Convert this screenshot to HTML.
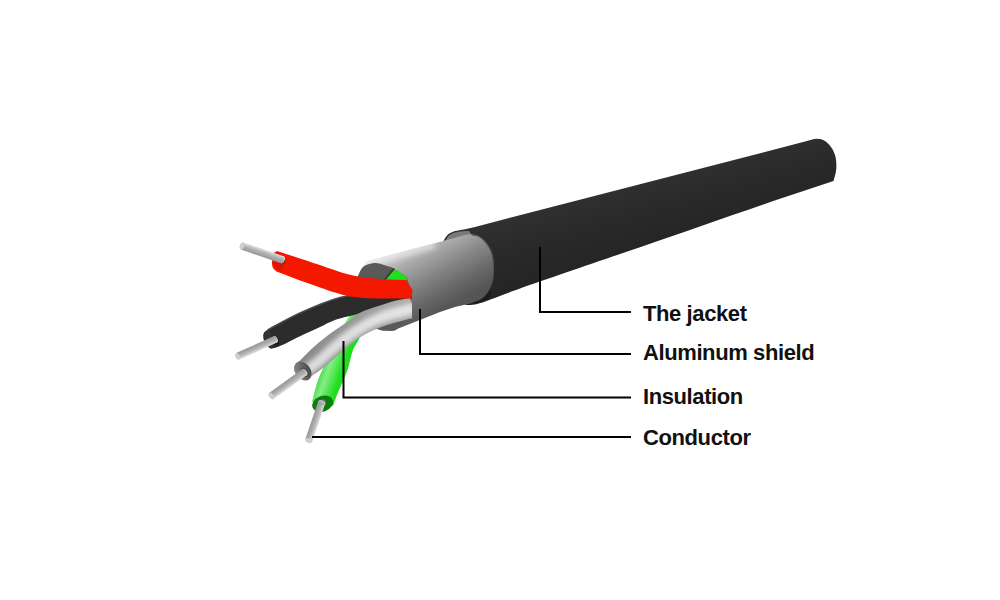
<!DOCTYPE html>
<html><head><meta charset="utf-8">
<style>
html,body{margin:0;padding:0;background:#fff;}
body{width:1000px;height:600px;overflow:hidden;position:relative;}
svg{position:absolute;left:0;top:0;}
.lbl{position:absolute;left:643px;font-family:"Liberation Sans",sans-serif;font-weight:bold;font-size:22px;letter-spacing:-0.4px;color:#111;white-space:nowrap;line-height:1;}
</style></head>
<body>
<svg width="1000" height="600" viewBox="0 0 1000 600">
<defs>
<linearGradient id="jk" gradientUnits="userSpaceOnUse" x1="640" y1="168" x2="662" y2="245">
<stop offset="0" stop-color="#333"/><stop offset="0.5" stop-color="#2a2a2a"/><stop offset="1" stop-color="#252525"/></linearGradient>
<linearGradient id="sh" gradientUnits="userSpaceOnUse" x1="400" y1="240" x2="440" y2="312">
<stop offset="0" stop-color="#e4e4e4"/><stop offset="0.3" stop-color="#aaaaaa"/><stop offset="0.55" stop-color="#878787"/><stop offset="0.8" stop-color="#686868"/><stop offset="1" stop-color="#555"/></linearGradient>
<clipPath id="shclip"><path d="M368.00,260.80 L460.00,236.50 L460.00,236.50 C463.33,235.77 466.76,234.26 470.00,234.30 C473.08,234.34 476.26,235.02 479.00,236.50 C481.98,238.11 484.84,241.10 487.00,244.00 C489.18,246.93 490.91,250.42 492.00,254.00 C493.13,257.73 493.43,261.71 493.50,266.00 C493.58,270.95 493.66,276.93 492.00,282.00 C490.27,287.29 486.92,293.37 483.00,297.00 C479.43,300.31 474.33,301.33 470.00,303.50 L455.00,307.00 L440.00,312.00 L392.00,331.00 L392.00,331.00 C386.33,330.00 379.85,330.85 375.00,328.00 C369.70,324.88 365.00,318.00 362.00,312.00 C359.00,306.00 357.56,298.23 357.00,292.00 C356.52,286.68 356.81,281.39 358.00,277.00 C359.03,273.21 361.17,269.85 363.00,267.00 C364.55,264.59 366.33,262.87 368.00,260.80 Z"/></clipPath>
<linearGradient id="gr" gradientUnits="userSpaceOnUse" x1="316" y1="372" x2="350" y2="384">
<stop offset="0" stop-color="#2bcf2b"/><stop offset="0.3" stop-color="#86ee86"/><stop offset="0.65" stop-color="#22e022"/><stop offset="1" stop-color="#12d612"/></linearGradient>
<linearGradient id="cg" gradientUnits="userSpaceOnUse" x1="311.65" y1="420.41" x2="318.65" y2="422.79"><stop offset="0" stop-color="#969696"/><stop offset="0.55" stop-color="#b2b2b2"/><stop offset="1" stop-color="#dedede"/></linearGradient>
<linearGradient id="bface" x1="0" y1="0" x2="1" y2="0.6"><stop offset="0" stop-color="#2a2a2a"/><stop offset="0.6" stop-color="#383838"/><stop offset="1" stop-color="#202020"/></linearGradient>
<linearGradient id="cb" gradientUnits="userSpaceOnUse" x1="255.07" y1="344.57" x2="258.03" y2="351.13"><stop offset="0" stop-color="#969696"/><stop offset="0.55" stop-color="#b2b2b2"/><stop offset="1" stop-color="#dedede"/></linearGradient>
<linearGradient id="gw" gradientUnits="userSpaceOnUse" x1="300" y1="370" x2="410" y2="310">
<stop offset="0" stop-color="#888"/><stop offset="0.5" stop-color="#969696"/><stop offset="1" stop-color="#acacac"/></linearGradient>
<filter id="blur3" x="-20%" y="-20%" width="140%" height="140%"><feGaussianBlur stdDeviation="2.6"/></filter>
<clipPath id="gclip"><path d="M298.50,362.00 C302.67,357.83 306.39,353.72 311.00,349.50 C316.21,344.73 322.51,339.40 328.30,335.00 C333.72,330.88 339.26,327.54 344.60,323.80 C349.82,320.14 354.31,315.80 360.00,312.80 C366.04,309.62 373.79,307.61 380.00,305.50 C385.34,303.69 389.96,302.05 395.00,300.80 C399.96,299.56 405.00,298.93 410.00,298.00 L412.00,304.00 L412.00,318.50 L410.00,318.50 C400.00,321.50 388.97,323.94 380.00,327.50 C372.23,330.58 365.47,333.89 359.00,338.00 C352.73,341.99 347.56,346.85 341.70,351.70 C335.41,356.90 328.77,363.38 322.50,368.30 C316.90,372.69 311.50,376.10 306.00,380.00 L306.00,380.00 C303.00,378.33 299.01,377.29 297.00,375.00 C295.21,372.96 293.64,369.63 294.00,367.40 C294.33,365.34 297.00,363.80 298.50,362.00 Z"/></clipPath>
<linearGradient id="gface" x1="0" y1="0" x2="1" y2="0.6"><stop offset="0" stop-color="#9a9a9a"/><stop offset="0.5" stop-color="#6e6e6e"/><stop offset="1" stop-color="#4a4a4a"/></linearGradient>
<linearGradient id="cy" gradientUnits="userSpaceOnUse" x1="285.69" y1="381.01" x2="290.11" y2="387.19"><stop offset="0" stop-color="#969696"/><stop offset="0.55" stop-color="#b2b2b2"/><stop offset="1" stop-color="#dedede"/></linearGradient>
<linearGradient id="cr" gradientUnits="userSpaceOnUse" x1="261.02" y1="256.50" x2="263.48" y2="249.30"><stop offset="0" stop-color="#969696"/><stop offset="0.55" stop-color="#b2b2b2"/><stop offset="1" stop-color="#dedede"/></linearGradient>
</defs>
<path d="M443.50,241.00 C444.67,239.17 445.46,237.02 447.00,235.50 C448.60,233.92 450.71,232.73 453.00,231.80 C455.62,230.74 458.73,230.53 462.00,229.80 C465.94,228.92 470.67,227.87 475.00,226.90 L806.00,141.30 L806.00,141.30 C809.67,140.47 813.63,138.72 817.00,138.80 C819.89,138.86 822.68,139.65 825.00,141.00 C827.35,142.37 829.35,144.71 831.00,147.00 C832.70,149.36 834.12,152.26 835.00,155.00 C835.84,157.60 836.13,160.33 836.30,163.00 C836.46,165.66 836.40,168.21 836.00,171.00 C835.55,174.17 834.33,177.67 833.50,181.00 L780.00,198.70 C733.33,214.87 684.88,231.70 640.00,247.20 C598.47,261.54 548.26,278.34 520.00,288.50 C504.44,294.09 496.00,297.50 484.00,302.00 L484.00,302.00 C481.00,302.83 478.07,304.00 475.00,304.50 C471.90,305.01 468.67,304.83 465.50,305.00 L470.00,270.00 Z" fill="url(#jk)"/>
<path d="M445.50,240.50 C446.67,238.83 447.47,236.80 449.00,235.50 C450.60,234.14 452.80,233.31 455.00,232.60 C457.43,231.82 460.52,231.46 463.00,231.20 C465.14,230.98 467.00,231.07 469.00,231.00 L471.00,234.00 L466.00,238.00 L447.00,244.00 Z" fill="#7a7a7a"/>
<path d="M465.00,303.50 C468.67,303.33 472.47,303.68 476.00,303.00 C479.46,302.33 483.14,300.82 486.00,299.50 C488.31,298.43 490.00,297.17 492.00,296.00 L490.00,290.00 L490.00,290.00 C486.67,292.33 483.76,295.06 480.00,297.00 C475.85,299.14 470.67,300.33 466.00,302.00 Z" fill="#1c1c1c"/>
<path d="M368.00,260.80 L460.00,236.50 L460.00,236.50 C463.33,235.77 466.76,234.26 470.00,234.30 C473.08,234.34 476.26,235.02 479.00,236.50 C481.98,238.11 484.84,241.10 487.00,244.00 C489.18,246.93 490.91,250.42 492.00,254.00 C493.13,257.73 493.43,261.71 493.50,266.00 C493.58,270.95 493.66,276.93 492.00,282.00 C490.27,287.29 486.92,293.37 483.00,297.00 C479.43,300.31 474.33,301.33 470.00,303.50 L455.00,307.00 L440.00,312.00 L392.00,331.00 L392.00,331.00 C386.33,330.00 379.85,330.85 375.00,328.00 C369.70,324.88 365.00,318.00 362.00,312.00 C359.00,306.00 357.56,298.23 357.00,292.00 C356.52,286.68 356.81,281.39 358.00,277.00 C359.03,273.21 361.17,269.85 363.00,267.00 C364.55,264.59 366.33,262.87 368.00,260.80 Z" fill="url(#sh)"/>
<g clip-path="url(#shclip)"><path d="M362.00,264.00 C373.00,261.00 383.47,258.16 395.00,255.00 C407.69,251.52 421.67,247.67 435.00,244.00" fill="none" stroke="#fff" stroke-opacity="0.45" stroke-width="10" filter="url(#blur3)"/></g>
<path d="M472.00,234.80 C474.33,235.37 476.74,235.28 479.00,236.50 C481.78,238.01 484.84,241.10 487.00,244.00 C489.18,246.93 490.91,250.42 492.00,254.00 C493.13,257.73 493.43,261.71 493.50,266.00 C493.58,270.95 493.66,276.93 492.00,282.00 C490.27,287.29 486.94,293.46 483.00,297.00 C479.44,300.20 474.33,301.00 470.00,303.00" fill="none" stroke="#555" stroke-width="1.2"/>
<path d="M357.50,277.00 C359.33,273.67 360.37,269.31 363.00,267.00 C365.53,264.79 369.50,263.61 372.80,263.20 C375.97,262.81 379.23,263.71 382.40,264.40 C385.63,265.10 388.80,266.40 392.00,267.40 L406.40,276.40 L409.00,284.50 L412.50,292.00 L411.00,300.00 L409.00,317.00 L402.00,325.00 L395.00,330.50 L395.00,330.50 C390.00,330.33 384.47,331.70 380.00,330.00 C375.44,328.26 371.20,324.41 368.00,320.00 C364.24,314.82 361.75,307.03 360.00,300.00 C358.18,292.72 358.33,284.67 357.50,277.00 Z" fill="#5a5a5a"/>
<path d="M384.5,279.5 L394,268.5 L406.4,276.4 L407,281 Z" fill="#1ee01e"/>
<path d="M383.5,279.5 L393.3,268 L395,269 L386,279.5 Z" fill="#3a3a3a"/>
<path d="M312.00,402.00 C314.00,394.67 315.39,387.23 318.00,380.00 C320.69,372.56 324.47,365.55 328.00,358.00 C331.78,349.91 336.33,340.24 340.00,333.00 C342.87,327.33 344.70,323.08 348.00,318.00 C351.82,312.11 356.94,305.54 362.00,300.00 C366.96,294.56 372.67,290.00 378.00,285.00 L392.00,290.00 L392.00,290.00 C384.00,300.67 373.90,312.64 368.00,322.00 C363.80,328.67 361.36,334.89 358.60,340.00 C356.52,343.84 354.65,345.97 353.00,350.00 C350.78,355.41 349.91,363.04 347.50,370.00 C344.75,377.95 339.61,388.33 337.00,395.00 C335.28,399.38 334.33,402.33 333.00,406.00 Z" fill="url(#gr)"/>
<ellipse cx="322.6" cy="403.8" rx="10.8" ry="7.9" transform="rotate(-22 322.6 403.8)" fill="#0a7f0a"/>
<ellipse cx="321.8" cy="403.2" rx="4.2" ry="3.4" transform="rotate(-22 321.8 403.2)" fill="#7a7a7a"/>
<path d="M312.20,441.79 L325.10,403.79 L318.10,401.41 L305.20,439.41 Z" fill="url(#cg)"/><ellipse cx="321.60" cy="402.60" rx="2.22" ry="3.70" transform="rotate(-71.2 321.60 402.60)" fill="url(#cg)"/><ellipse cx="308.70" cy="440.60" rx="2.22" ry="3.70" transform="rotate(-71.2 308.70 440.60)" fill="#cfcfcf"/>
<path d="M266.50,330.50 C277.67,324.67 288.18,318.36 300.00,313.00 C312.59,307.29 327.47,301.04 340.00,297.50 C350.57,294.51 359.26,293.65 370.00,292.00 C382.35,290.10 396.67,288.67 410.00,287.00 L412.00,298.50 L412.00,298.50 C406.33,299.67 400.86,300.52 395.00,302.00 C388.57,303.62 381.17,306.01 375.00,308.00 C369.62,309.74 365.67,311.45 360.00,313.20 C352.76,315.44 342.18,317.37 335.00,320.00 C329.26,322.10 325.36,324.52 320.00,327.00 C313.82,329.87 306.79,333.00 300.00,336.20 C292.90,339.55 283.80,344.72 278.30,346.70 C275.12,347.84 273.10,347.97 270.50,348.60 L270.50,348.50 C269.00,346.67 266.83,345.09 266.00,343.00 C265.17,340.92 265.38,338.19 265.50,336.00 C265.61,334.05 266.17,332.33 266.50,330.50 Z" fill="#2c2c2c"/>
<path d="M267.50,330.00 C278.33,324.33 288.45,318.24 300.00,313.00 C312.49,307.33 328.82,300.61 340.00,297.50 C347.69,295.36 353.33,295.17 360.00,294.00" fill="none" stroke="#4a4a4a" stroke-width="1.5"/>
<ellipse cx="269.5" cy="339.5" rx="5.6" ry="9.4" transform="rotate(-24 269.5 339.5)" fill="url(#bface)"/>
<ellipse cx="275.5" cy="340.2" rx="3.4" ry="5" transform="rotate(-24 275.5 340.2)" fill="#151515"/>
<path d="M239.08,359.68 L276.98,342.58 L274.02,336.02 L236.12,353.12 Z" fill="url(#cb)"/><ellipse cx="275.50" cy="339.30" rx="2.16" ry="3.60" transform="rotate(-24.3 275.50 339.30)" fill="url(#cb)"/><ellipse cx="237.60" cy="356.40" rx="2.16" ry="3.60" transform="rotate(-24.3 237.60 356.40)" fill="#cfcfcf"/>
<path d="M298.50,362.00 C302.67,357.83 306.39,353.72 311.00,349.50 C316.21,344.73 322.51,339.40 328.30,335.00 C333.72,330.88 339.26,327.54 344.60,323.80 C349.82,320.14 354.31,315.80 360.00,312.80 C366.04,309.62 373.79,307.61 380.00,305.50 C385.34,303.69 389.96,302.05 395.00,300.80 C399.96,299.56 405.00,298.93 410.00,298.00 L412.00,304.00 L412.00,318.50 L410.00,318.50 C400.00,321.50 388.97,323.94 380.00,327.50 C372.23,330.58 365.47,333.89 359.00,338.00 C352.73,341.99 347.56,346.85 341.70,351.70 C335.41,356.90 328.77,363.38 322.50,368.30 C316.90,372.69 311.50,376.10 306.00,380.00 L306.00,380.00 C303.00,378.33 299.01,377.29 297.00,375.00 C295.21,372.96 293.64,369.63 294.00,367.40 C294.33,365.34 297.00,363.80 298.50,362.00 Z" fill="url(#gw)"/>
<g clip-path="url(#gclip)"><path d="M302.00,374.00 C307.33,370.00 312.60,366.41 318.00,362.00 C323.92,357.16 329.73,351.12 336.00,346.00 C342.39,340.78 348.85,335.58 356.00,331.00 C363.47,326.21 371.02,321.66 380.00,318.00 C390.37,313.77 403.33,311.33 415.00,308.00" fill="none" stroke="#fff" stroke-opacity="0.7" stroke-width="11" filter="url(#blur3)"/></g>
<ellipse cx="302.8" cy="371" rx="7.6" ry="10.4" transform="rotate(-38 302.8 371)" fill="url(#gface)"/>
<ellipse cx="304.6" cy="372.4" rx="4" ry="5.2" transform="rotate(-38 304.6 372.4)" fill="#4a4a4a"/>
<path d="M273.51,399.09 L306.71,375.29 L302.29,369.11 L269.09,392.91 Z" fill="url(#cy)"/><ellipse cx="304.50" cy="372.20" rx="2.28" ry="3.80" transform="rotate(-35.6 304.50 372.20)" fill="url(#cy)"/><ellipse cx="271.30" cy="396.00" rx="2.28" ry="3.80" transform="rotate(-35.6 271.30 396.00)" fill="#cfcfcf"/>
<path d="M277.00,251.00 C284.67,253.50 292.42,256.01 300.00,258.50 C307.42,260.94 315.04,263.45 322.00,265.80 C328.31,267.93 334.58,270.32 340.00,272.00 C344.38,273.36 347.75,274.36 352.00,275.30 C356.70,276.33 361.69,277.14 367.00,277.80 C372.95,278.54 379.55,279.03 386.00,279.40 C392.67,279.78 399.60,279.80 406.40,280.00 L409.00,284.50 L412.50,290.00 L411.50,298.50 L411.50,298.50 C399.33,298.47 386.01,298.85 375.00,298.40 C365.87,298.02 357.23,297.62 350.00,296.40 C344.32,295.44 339.97,293.99 335.00,292.50 C329.97,290.99 325.36,289.23 320.00,287.40 C313.81,285.28 306.91,283.02 300.00,280.50 C292.46,277.76 284.33,274.50 276.50,271.50 L276.50,271.50 C275.33,270.33 273.75,269.40 273.00,268.00 C272.24,266.58 271.99,264.81 272.00,263.00 C272.01,260.86 272.60,258.06 273.50,256.00 C274.33,254.10 275.83,252.67 277.00,251.00 Z" fill="#f41800"/>
<ellipse cx="278" cy="261" rx="5" ry="9.6" transform="rotate(-15 278 261)" fill="#dc1400"/>
<ellipse cx="282" cy="259.8" rx="3" ry="4.4" transform="rotate(-15 282 259.8)" fill="#8a1004"/>
<path d="M240.77,249.60 L281.27,263.40 L283.73,256.20 L243.23,242.40 Z" fill="url(#cr)"/><ellipse cx="282.50" cy="259.80" rx="2.28" ry="3.80" transform="rotate(18.8 282.50 259.80)" fill="url(#cr)"/><ellipse cx="242.00" cy="246.00" rx="2.28" ry="3.80" transform="rotate(18.8 242.00 246.00)" fill="#cfcfcf"/>
<g stroke="#000" stroke-width="2" fill="none">
<polyline points="540,247 540,312 631,312"/>
<polyline points="420,309 420,354 631,354"/>
<polyline points="343.5,341 343.5,397.5 631,397.5"/>
<polyline points="312,437 631,437"/>
</g>
</svg>
<div class="lbl" style="top:303px">The jacket</div>
<div class="lbl" style="top:342px">Aluminum shield</div>
<div class="lbl" style="top:386px">Insulation</div>
<div class="lbl" style="top:427px">Conductor</div>
</body></html>
